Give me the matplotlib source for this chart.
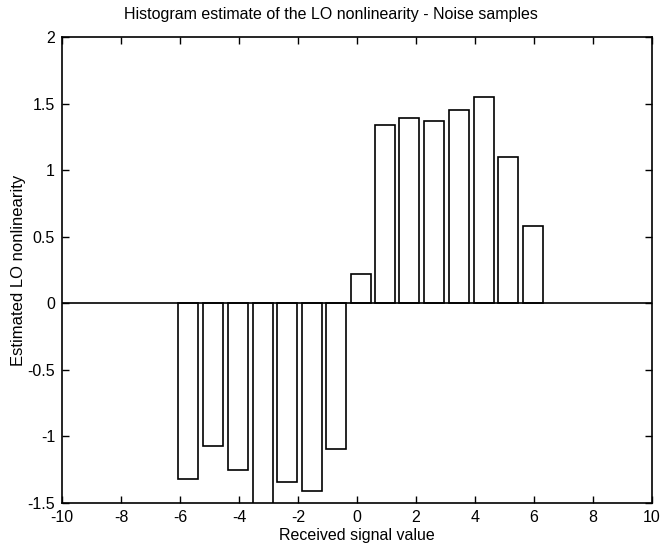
import numpy as np
import matplotlib
matplotlib.use("Agg")
import matplotlib.pyplot as plt

# bin centres and estimated LO nonlinearity
centers = [-5.72, -4.87, -4.02, -3.20, -2.36, -1.53, -0.71,
           0.12, 0.95, 1.77, 2.62, 3.46, 4.30, 5.13, 5.97]
values = [-1.32, -1.07, -1.25, -1.55, -1.345, -1.41, -1.095,
          0.22, 1.34, 1.39, 1.37, 1.45, 1.55, 1.10, 0.58]
xticks = [-10, -8, -6, -4, -2, 0, 2, 4, 6, 8, 10]
yticks = [-1.5, -1, -0.5, 0, 0.5, 1, 1.5, 2]

plt.rcParams["font.family"] = ["Liberation Sans", "DejaVu Sans"]

fig = plt.figure(figsize=(6.62, 5.44), dpi=100)
ax = fig.add_axes([0.0937, 0.0754, 0.8913, 0.8566])

width = 0.8 * (centers[1] - centers[0])
ax.bar(centers, values, width=width, color="white", edgecolor="black",
       linewidth=1.2, zorder=2)
ax.axhline(0, color="black", linewidth=1.2, zorder=3)

ax.set_xlim(-10, 10)
ax.set_ylim(-1.5, 2)
ax.set_xticks(xticks)
ax.set_yticks(yticks)
ax.set_xticklabels([str(t) for t in xticks])
ax.set_yticklabels(["-1.5", "-1", "-0.5", "0", "0.5", "1", "1.5", "2"])
ax.tick_params(direction="in", length=5, width=1, top=True, right=True,
               labelsize=11.5, pad=5)
for s in ax.spines.values():
    s.set_linewidth(1.2)

ax.set_title("Histogram estimate of the LO nonlinearity - Noise samples",
             fontsize=11.5, pad=13, x=0.455)
ax.set_xlabel("Received signal value", fontsize=11.5, labelpad=2)
ax.set_ylabel("Estimated LO nonlinearity", fontsize=12, labelpad=1)

fig.savefig("out.png", dpi=100)
